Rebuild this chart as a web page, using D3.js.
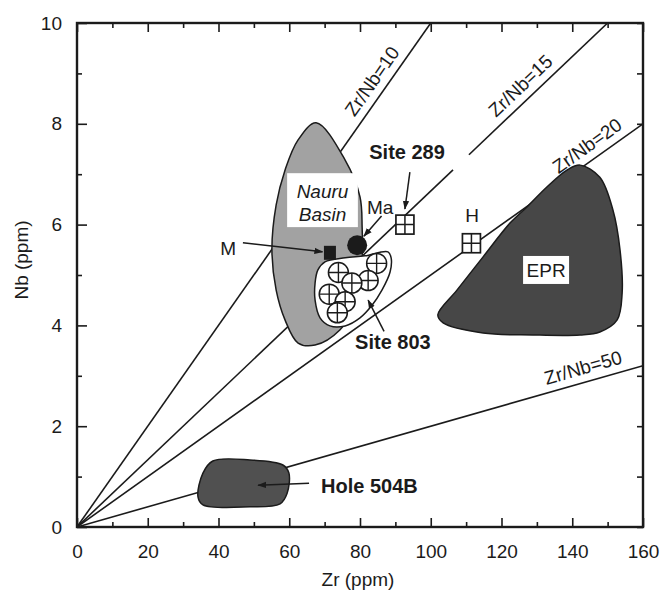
<!DOCTYPE html>
<html>
<head>
<meta charset="utf-8">
<script src="https://cdn.jsdelivr.net/npm/d3@7"></script>
<style>
  body { margin: 0; background: #fff; }
  svg { display: block; }
  text { font-family: "Liberation Sans", Arial, Helvetica, sans-serif; fill: #1b1b1b; }
</style>
</head>
<body>
<svg id="chart" width="660" height="594"></svg>
<script>
// ---- values (Zr, Nb in ppm) ----
const xTickValues = [0, 10, 20, 30, 40, 50, 60, 70, 80, 90, 100, 110, 120, 130, 140, 150, 160];
const yTickValues = [0, 1, 2, 3, 4, 5, 6, 7, 8, 9, 10];
const ratios = [10, 15, 20, 50];
const ratioLabelZr = [86.8, 128.2, 146.6, 144.2];
const ratioGaps = [null, [106.3, 110.8], null, null];

// field outlines [Zr, Nb]
const nauruBasin = [[67.6, 8.02], [75.8, 7.28], [80.0, 6.55], [80.6, 5.95], [80.6, 5.30], [79.4, 4.50],
  [74.3, 3.91], [67.3, 3.61], [62.5, 3.65], [58.8, 4.11], [56.3, 4.70], [55.1, 5.50],
  [56.3, 6.39], [58.8, 7.08], [62.5, 7.68]];
const eprField = [[142.2, 7.18], [147.8, 6.94], [151.5, 6.29], [153.5, 5.50], [154.1, 4.64], [152.7, 4.11],
  [147.8, 3.87], [142.2, 3.81], [128.9, 3.81], [114.8, 3.85], [103.5, 4.05], [102.0, 4.21],
  [107.4, 4.70], [114.8, 5.36], [122.4, 6.03], [127.2, 6.35], [132.9, 6.75], [138.5, 7.08]];
const hole504B = [[38.4, 1.31], [48.9, 1.33], [58.2, 1.23], [59.9, 1.07], [59.4, 0.67], [57.4, 0.46],
  [48.9, 0.40], [35.6, 0.44], [34.2, 0.60], [35.6, 1.07]];
const site803Field = [[68.1, 5.10], [70.1, 5.26], [75.8, 5.34], [81.4, 5.38], [87.9, 5.46], [88.8, 5.34],
  [88.5, 5.06], [86.2, 4.70], [83.4, 4.40], [80.0, 4.15], [75.8, 3.99], [71.5, 3.99],
  [68.7, 4.15], [67.3, 4.50], [67.3, 4.84]];

// individual samples
const site803Samples = [[84.7, 5.23], [73.9, 5.05], [82.3, 4.89], [77.7, 4.84], [71.3, 4.62], [75.8, 4.47], [73.6, 4.25]];
const site289Sample = [92.7, 6.0];
const hSample = [111.5, 5.63];
const mSample = [71.5, 5.44];
const maSample = [79.2, 5.59];

// annotation text and pointers (data units)
const labels = [
  { text: "Site 289", at: [93.3, 7.44], bold: true },
  { text: "Ma", at: [85.7, 6.35] },
  { text: "M", at: [42.7, 5.54] },
  { text: "H", at: [111.7, 6.19] },
  { text: "Site 803", at: [89.3, 3.67], bold: true },
  { text: "Hole 504B", at: [69.0, 0.81], bold: true, anchor: "start" }
];
const pointers = [
  { from: [46.9, 5.64], to: [69.4, 5.46] },   // M
  { from: [86.1, 6.17], to: [81.1, 5.77] },   // Ma
  { from: [94.1, 7.04], to: [92.7, 6.31] },   // Site 289
  { from: [86.8, 3.88], to: [82.3, 4.50] },   // Site 803
  { from: [65.6, 0.87], to: [51.2, 0.83] }    // Hole 504B
];

// ---- drawing ----
const svg = d3.select("#chart");
const x = d3.scaleLinear().domain([0, 160]).range([77, 643]);
const y = d3.scaleLinear().domain([0, 10]).range([527, 23]);
const ink = "#1b1b1b";

const defs = svg.append("defs");
defs.append("clipPath").attr("id", "plot-clip")
  .append("rect").attr("x", x(0)).attr("y", y(10))
  .attr("width", x(160) - x(0)).attr("height", y(0) - y(10));
defs.append("marker").attr("id", "arrow")
  .attr("viewBox", "0 0 10 10").attr("refX", 9).attr("refY", 5)
  .attr("markerWidth", 9).attr("markerHeight", 9).attr("markerUnits", "userSpaceOnUse")
  .attr("orient", "auto")
  .append("path").attr("d", "M0,1.5 L10,5 L0,8.5 Z").attr("fill", ink);

const plot = svg.append("g").attr("clip-path", "url(#plot-clip)");

// constant Zr/Nb reference lines from the origin
ratios.forEach((r, i) => {
  const zEnd = Math.min(160, 10 * r);
  const segs = ratioGaps[i] ? [[0, ratioGaps[i][0]], [ratioGaps[i][1], zEnd]] : [[0, zEnd]];
  segs.forEach(([z0, z1]) => {
    plot.append("line")
      .attr("x1", x(z0)).attr("y1", y(z0 / r))
      .attr("x2", x(z1)).attr("y2", y(z1 / r))
      .attr("stroke", ink).attr("stroke-width", 1.6);
  });
  const angle = Math.atan2(y(1) - y(0), x(r) - x(0)) * 180 / Math.PI;
  const zl = ratioLabelZr[i];
  svg.append("text")
    .attr("transform", `translate(${x(zl)},${y(zl / r)}) rotate(${angle})`)
    .attr("dy", -8)
    .attr("text-anchor", "middle")
    .attr("font-size", 19)
    .text(`Zr/Nb=${r}`);
});

const area = d3.line().x(d => x(d[0])).y(d => y(d[1])).curve(d3.curveCatmullRomClosed.alpha(0.5));

// fields
plot.append("path").datum(nauruBasin).attr("d", area)
  .attr("fill", "#a2a2a2").attr("stroke", ink).attr("stroke-width", 1.5);
plot.append("path").datum(eprField).attr("d", area)
  .attr("fill", "#474747").attr("stroke", ink).attr("stroke-width", 1.5);
plot.append("path").datum(hole504B).attr("d", area)
  .attr("fill", "#505050").attr("stroke", ink).attr("stroke-width", 1.5);

// Nauru Basin label box
svg.append("rect")
  .attr("x", x(59.4)).attr("y", y(7.02))
  .attr("width", x(79.4) - x(59.4)).attr("height", y(5.95) - y(7.02))
  .attr("fill", "#fff");
svg.append("text").attr("x", x(69.4)).attr("y", y(6.53)).attr("text-anchor", "middle")
  .attr("font-size", 19).attr("font-style", "italic").text("Nauru");
svg.append("text").attr("x", x(69.4)).attr("y", y(6.08)).attr("text-anchor", "middle")
  .attr("font-size", 19).attr("font-style", "italic").text("Basin");

// EPR label box
svg.append("rect")
  .attr("x", x(132.6) - 23).attr("y", y(5.10) - 14)
  .attr("width", 46).attr("height", 28).attr("fill", "#fff");
svg.append("text").attr("x", x(132.6)).attr("y", y(5.10)).attr("dy", "0.36em")
  .attr("text-anchor", "middle").attr("font-size", 19).text("EPR");

// Site 803 field and samples
plot.append("path").datum(site803Field).attr("d", area)
  .attr("fill", "#fff").attr("stroke", ink).attr("stroke-width", 1.5);
const r803 = 10;
const g803 = svg.append("g");
site803Samples.forEach(d => {
  const cx = x(d[0]), cy = y(d[1]);
  const g = g803.append("g").attr("transform", `translate(${cx},${cy})`);
  g.append("circle").attr("r", r803).attr("fill", "#fff").attr("stroke", ink).attr("stroke-width", 1.5);
  g.append("path").attr("d", `M${-r803},0H${r803}M0,${-r803}V${r803}`).attr("stroke", ink).attr("stroke-width", 1.4);
});

// open squares with cross (Site 289 and H)
[site289Sample, hSample].forEach(d => {
  const cx = x(d[0]), cy = y(d[1]), w = 18, h = 19;
  const g = svg.append("g").attr("transform", `translate(${cx},${cy})`);
  g.append("rect").attr("x", -w / 2).attr("y", -h / 2).attr("width", w).attr("height", h)
    .attr("fill", "#fff").attr("stroke", ink).attr("stroke-width", 1.7);
  g.append("path").attr("d", `M${-w / 2},0H${w / 2}M0,${-h / 2}V${h / 2}`).attr("stroke", ink).attr("stroke-width", 1.5);
});

// M (filled square) and Ma (filled circle)
svg.append("rect").attr("x", x(mSample[0]) - 6).attr("y", y(mSample[1]) - 7)
  .attr("width", 12).attr("height", 14).attr("fill", ink);
svg.append("circle").attr("cx", x(maSample[0])).attr("cy", y(maSample[1])).attr("r", 10).attr("fill", ink);

// pointers
pointers.forEach(p => {
  svg.append("line")
    .attr("x1", x(p.from[0])).attr("y1", y(p.from[1]))
    .attr("x2", x(p.to[0])).attr("y2", y(p.to[1]))
    .attr("stroke", ink).attr("stroke-width", 1.5)
    .attr("marker-end", "url(#arrow)");
});

// annotation labels
labels.forEach(l => {
  svg.append("text")
    .attr("x", x(l.at[0])).attr("y", y(l.at[1])).attr("dy", "0.36em")
    .attr("text-anchor", l.anchor || "middle")
    .attr("font-size", l.bold ? 20 : 19)
    .attr("font-weight", l.bold ? "bold" : "normal")
    .text(l.text);
});

// ---- axes and frame ----
const major = v => v % 20 === 0;
const gx = svg.append("g").attr("transform", `translate(0,${y(0)})`)
  .call(d3.axisBottom(x).tickValues(xTickValues).tickSizeInner(-9).tickSizeOuter(0).tickPadding(18)
    .tickFormat(d => major(d) ? d : ""));
gx.selectAll(".tick line").filter(d => !major(d)).attr("y2", -5);

const gxTop = svg.append("g").attr("transform", `translate(0,${y(10)})`)
  .call(d3.axisTop(x).tickValues(xTickValues).tickSizeInner(-9).tickSizeOuter(0).tickFormat(""));
gxTop.selectAll(".tick line").filter(d => !major(d)).attr("y2", 5);

const gy = svg.append("g").attr("transform", `translate(${x(0)},0)`)
  .call(d3.axisLeft(y).tickValues(yTickValues).tickSizeInner(-10).tickSizeOuter(0).tickPadding(15)
    .tickFormat(d => d % 2 === 0 ? d : ""));
gy.selectAll(".tick line").filter(d => d % 2 !== 0).attr("x2", 5);

svg.append("g").attr("transform", `translate(${x(160)},0)`)
  .call(d3.axisRight(y).tickValues(yTickValues).tickSizeInner(-6).tickSizeOuter(0).tickFormat(""));

svg.selectAll(".domain").remove();
svg.selectAll(".tick line").attr("stroke", ink).attr("stroke-width", 1.6);
svg.selectAll(".tick text").attr("font-size", 19).attr("font-family", null).attr("fill", ink);

svg.append("rect")
  .attr("x", x(0)).attr("y", y(10))
  .attr("width", x(160) - x(0)).attr("height", y(0) - y(10))
  .attr("fill", "none").attr("stroke", ink).attr("stroke-width", 2.4);

// axis titles
svg.append("text").attr("x", (x(0) + x(160)) / 2 - 2).attr("y", 586)
  .attr("text-anchor", "middle").attr("font-size", 19).text("Zr (ppm)");
svg.append("text").attr("transform", `translate(28,260) rotate(-90)`)
  .attr("text-anchor", "middle").attr("font-size", 19).text("Nb (ppm)");
</script>
</body>
</html>
